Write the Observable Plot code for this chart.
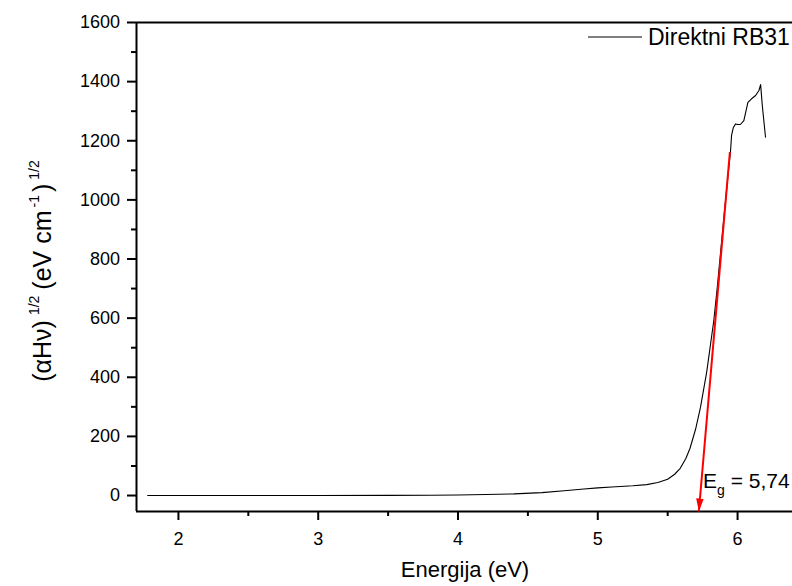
<!DOCTYPE html>
<html>
<head>
<meta charset="utf-8">
<script src="https://cdn.jsdelivr.net/npm/d3@7"></script>
<script src="https://cdn.jsdelivr.net/npm/@observablehq/plot@0.6"></script>
<style>
  html, body { margin: 0; padding: 0; background: #fff; }
</style>
</head>
<body>
<div id="chart"></div>
<script>
// ---- Data ----
const energy = [1.78, 2.5, 3.0, 3.5, 3.8, 4.0, 4.2, 4.4, 4.6, 4.76, 4.9, 5.0, 5.1, 5.25, 5.35, 5.43, 5.5, 5.55, 5.59, 5.63, 5.66, 5.7, 5.735, 5.78, 5.83, 5.855, 5.873, 5.9, 5.93, 5.95, 5.957, 5.97, 5.986, 6.0, 6.02, 6.045, 6.06, 6.074, 6.1, 6.129, 6.153, 6.165, 6.177, 6.2];
const values = [0, 0, 0, 0.5, 1, 2, 3.5, 5.5, 10, 16, 22, 26, 29, 33, 37, 44, 55, 72, 92, 125, 160, 225, 299, 420, 592, 705, 795, 930, 1075, 1167, 1218, 1245, 1257, 1255, 1255, 1268, 1300, 1330, 1342, 1353, 1370, 1390, 1319, 1212];

// Tangent (band-gap) arrow: start and end in data units
const arrowX = [5.945, 5.723];
const arrowY = [1162, -54];
const gapLabel = "5,74";

const seriesName = "Direktni RB31";
const xTitle = "Energija (eV)";
const yMajor = [0, 200, 400, 600, 800, 1000, 1200, 1400, 1600];
const yMinor = [100, 300, 500, 700, 900, 1100, 1300, 1500];
const xMajor = [2, 3, 4, 5, 6];
const xMinor = [2.5, 3.5, 4.5, 5.5];

const xDomain = [1.7, 6.393];
const yDomain = [-54, 1600];

const data = energy.map((e, i) => ({e, v: values[i]}));
const arrowData = [{x1: arrowX[0], y1: arrowY[0], x2: arrowX[1], y2: arrowY[1]}];

// filled triangular arrowhead
function filledArrow(color) {
  const m = d3.create("svg:marker")
    .attr("viewBox", "-13 -4 13 8")
    .attr("markerUnits", "userSpaceOnUse")
    .attr("markerWidth", 13)
    .attr("markerHeight", 8)
    .attr("refX", 0)
    .attr("refY", 0)
    .attr("orient", "auto");
  m.append("path").attr("d", "M-13,-3.8L0,0L-13,3.8Z").attr("fill", color).attr("stroke", "none");
  return m.node();
}

const fmt = d3.format("d");
const W = 792, H = 586;
const plot = Plot.plot({
  width: W,
  height: H,
  marginLeft: 136,
  marginRight: 0,
  marginTop: 22,
  marginBottom: 75,
  style: {fontFamily: "'Liberation Sans', Arial, sans-serif", fontSize: "18px", color: "black", background: "white", overflow: "visible"},
  x: {domain: xDomain, label: null},
  y: {domain: yDomain, label: null},
  marks: [
    Plot.axisY({ticks: yMinor, tickSize: 5, tickFormat: () => "", strokeWidth: 2, label: null}),
    Plot.axisY({ticks: yMajor, tickSize: 9, tickPadding: 7.5, tickFormat: fmt, strokeWidth: 2, fontSize: 18, label: null}),
    Plot.axisX({ticks: xMinor, tickSize: 5, tickFormat: () => "", strokeWidth: 2, label: null}),
    Plot.axisX({ticks: xMajor, tickSize: 9, tickPadding: 12, tickFormat: fmt, strokeWidth: 2, fontSize: 18, label: null}),
    Plot.ruleX([xDomain[0]], {stroke: "black", strokeWidth: 2}),
    Plot.ruleY([yDomain[0]], {stroke: "black", strokeWidth: 2}),
    Plot.ruleY([yDomain[1]], {stroke: "black", strokeWidth: 2}),
    Plot.line(data, {x: "e", y: "v", stroke: "black", strokeWidth: 1.1}),
    Plot.link(arrowData, {x1: "x1", y1: "y1", x2: "x2", y2: "y2", stroke: "#ff0000", strokeWidth: 2, markerEnd: filledArrow})
  ]
});

const svg = d3.select(plot);
const xs = plot.scale("x"), ys = plot.scale("y");
const font = "'Liberation Sans', Arial, sans-serif";

// Legend
svg.append("line").attr("x1", 588).attr("x2", 642).attr("y1", 37).attr("y2", 37)
  .attr("stroke", "black").attr("stroke-width", 1.2);
svg.append("text").attr("x", 648).attr("y", 45).attr("text-anchor", "start")
  .attr("font-family", font).attr("font-size", 23).attr("fill", "black").text(seriesName);

// Band-gap label
const eg = svg.append("text").attr("x", xs.apply(5.757)).attr("y", ys.apply(23)).attr("text-anchor", "start")
  .attr("font-family", font).attr("font-size", 21).attr("fill", "black");
eg.append("tspan").text("E");
eg.append("tspan").attr("font-size", 14).attr("dy", 7).text("g");
eg.append("tspan").attr("dy", -7).text(" = " + gapLabel);

// X title
svg.append("text").attr("x", (136 + 792) / 2 + 1).attr("y", 577).attr("text-anchor", "middle")
  .attr("font-family", font).attr("font-size", 22).attr("fill", "black").text(xTitle);

// Y title with superscripts
const yt = svg.append("text").attr("transform", "translate(51,271) rotate(-90)")
  .attr("text-anchor", "middle").attr("font-family", font).attr("font-size", 25).attr("fill", "black");
yt.append("tspan").text("(\u03b1H\u03bd)");
yt.append("tspan").attr("font-size", 14).attr("dy", -12).attr("dx", 5).text("1/2");
yt.append("tspan").attr("dy", 12).attr("dx", 6).text("(eV cm");
yt.append("tspan").attr("font-size", 14).attr("dy", -12).attr("dx", 3).text("-1");
yt.append("tspan").attr("dy", 12).attr("dx", 3).text(")");
yt.append("tspan").attr("font-size", 14).attr("dy", -12).attr("dx", 4).text("1/2");

document.getElementById("chart").appendChild(plot);
</script>
</body>
</html>
